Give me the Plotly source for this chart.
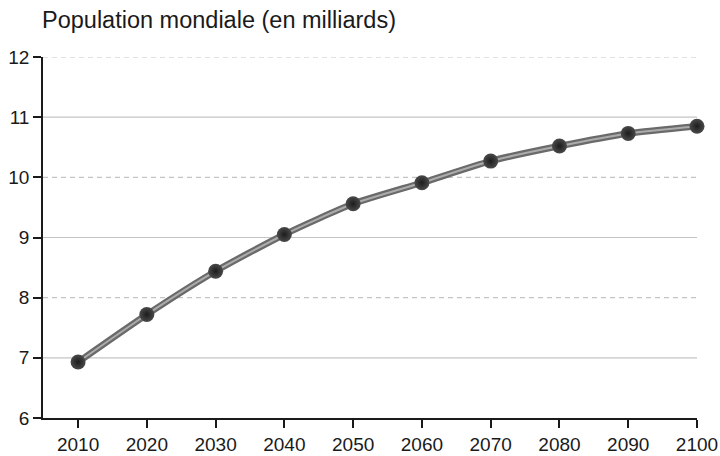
import plotly.graph_objects as go

# World population projection, billions
years = [2010, 2020, 2030, 2040, 2050, 2060, 2070, 2080, 2090, 2100]
population = [6.93, 7.72, 8.44, 9.05, 9.56, 9.91, 10.27, 10.52, 10.73, 10.85]

y_ticks = [6, 7, 8, 9, 10, 11, 12]
dashed_grid = [8, 10, 12]
solid_grid = [7, 9, 11]

x_range = [2004.9, 2100]
y_range = [6, 12]

fig = go.Figure()

# Tube-like line: dark outer stroke with lighter core
fig.add_trace(go.Scatter(
    x=years, y=population, mode="lines",
    line=dict(color="#6a6a6a", width=6.5, shape="spline", smoothing=0.6),
    hoverinfo="skip", cliponaxis=False,
))
fig.add_trace(go.Scatter(
    x=years, y=population, mode="lines",
    line=dict(color="#acacac", width=2, shape="spline", smoothing=0.6),
    hoverinfo="skip", cliponaxis=False,
))
fig.add_trace(go.Scatter(
    x=years, y=population, mode="markers",
    marker=dict(size=15, color="#4a4a4a",
                gradient=dict(type="radial", color="#1c1c1c"),
                line=dict(width=0)),
    cliponaxis=False,
))

shapes = []
for v in dashed_grid:
    shapes.append(dict(type="line", xref="paper", x0=0, x1=1, yref="y", y0=v, y1=v,
                       line=dict(color="#c4c4c4", width=1.2, dash="5px,4px"), layer="below"))
for v in solid_grid:
    shapes.append(dict(type="line", xref="paper", x0=0, x1=1, yref="y", y0=v, y1=v,
                       line=dict(color="#c4c4c4", width=1.2), layer="below"))

fig.update_layout(
    width=720, height=456,
    margin=dict(l=43, r=23, t=57, b=38),
    paper_bgcolor="white", plot_bgcolor="white",
    showlegend=False,
    shapes=shapes,
    font=dict(family="Liberation Sans, Arial, sans-serif", size=19, color="#1a1a1a"),
    xaxis=dict(range=x_range, tickvals=years, showgrid=False, zeroline=False,
               automargin=False,
               showline=True, linecolor="#1a1a1a", linewidth=1.6,
               ticks="outside", ticklen=8, tickwidth=1.6, tickcolor="#1a1a1a",
               tickfont=dict(size=19)),
    yaxis=dict(range=y_range, tickvals=y_ticks, showgrid=False, zeroline=False,
               automargin=False,
               showline=True, linecolor="#1a1a1a", linewidth=1.6,
               ticks="outside", ticklen=8, tickwidth=1.6, tickcolor="#1a1a1a",
               tickfont=dict(size=19)),
    annotations=[dict(text="Population mondiale (en milliards)", xref="paper", yref="paper",
                      x=0, y=1, xanchor="left", yanchor="bottom", yshift=22, xshift=-3,
                      showarrow=False, font=dict(size=23.5, color="#1a1a1a"))],
)

fig.write_html("out.html")
